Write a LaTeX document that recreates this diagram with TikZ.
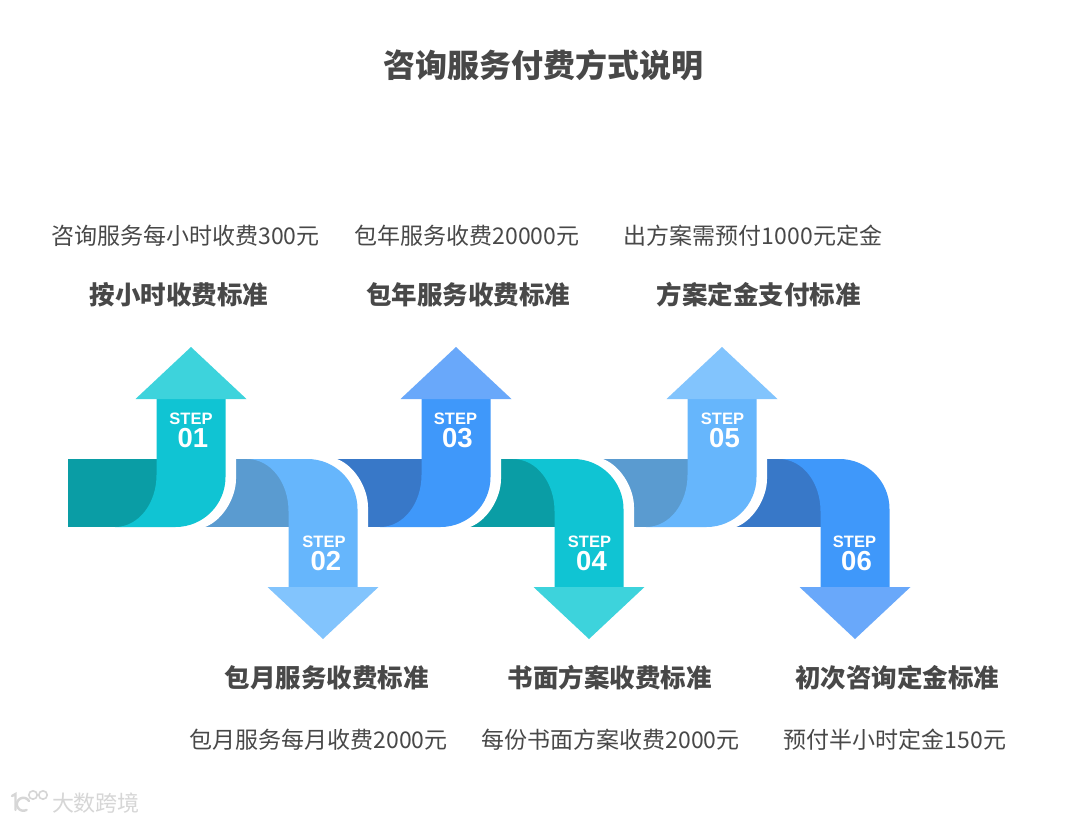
\documentclass[tikz,border=0pt]{standalone}
\usepackage{fontspec}
\setmainfont{Noto Sans CJK SC}
\newfontfamily\stepfont{Liberation Sans}
\definecolor{tealD}{HTML}{0A9DA5}
\definecolor{tealB}{HTML}{10C4D3}
\definecolor{tealH}{HTML}{3DD3DC}
\definecolor{skyD}{HTML}{5A9BD0}
\definecolor{skyB}{HTML}{66B6FC}
\definecolor{skyH}{HTML}{82C4FD}
\definecolor{blueD}{HTML}{3878C8}
\definecolor{blueB}{HTML}{3F98FA}
\definecolor{blueH}{HTML}{69A8FA}
\definecolor{ink}{HTML}{484848}
\definecolor{wmgray}{HTML}{D6D6D6}
\tikzset{
  titletext/.style={font=\fontsize{32}{36}\selectfont\bfseries,text=ink,inner sep=0pt},
  headtext/.style={font=\fontsize{25.5}{30}\selectfont\bfseries,text=ink,inner sep=0pt},
  desctext/.style={font=\fontsize{23}{28}\selectfont,text=ink,inner sep=0pt},
  steptext/.style={font=\stepfont\bfseries\fontsize{16.5}{18}\selectfont,text=white,inner sep=0pt},
  numtext/.style={font=\stepfont\bfseries\fontsize{27.5}{28}\selectfont,text=white,inner sep=0pt},
  marktext/.style={font=\fontsize{22}{24}\selectfont,text=wmgray,inner sep=0pt},
  markline/.style={draw=wmgray,line width=2.4pt,line cap=round}
}
% #1 centre x, #2 flip (1 up, -1 down), #3 dark, #4 bright, #5 head
\newcommand{\bendarrow}[5]{%
  \begin{scope}[shift={(#1,493)},yscale=#2]
    \fill[#3] (-123,-34) rectangle (-30,34);
    \fill[white] (-15.5,-60) -- (45,-60) -- (45,-14) .. controls (45,6) and (30,30) .. (11,35) -- (-15.5,35) -- cycle;
    \fill[#4] (-34.5,-95) -- (34.5,-95) -- (34.5,-16) arc[start angle=0,end angle=90,radius=50]
      -- (-76,34) .. controls (-52,34) and (-34.5,10) .. (-34.5,-18) -- cycle;
    \fill[#5] (0,-146) -- (55.5,-94) -- (-55.5,-94) -- cycle;
  \end{scope}}
\begin{document}
\begin{tikzpicture}[x=1pt,y=-1pt]
\useasboundingbox (0,0) rectangle (1080,823);
\fill[white] (0,0) rectangle (1080,823);
\bendarrow{855}{-1}{blueD}{blueB}{blueH}
\bendarrow{722}{1}{skyD}{skyB}{skyH}
\bendarrow{589}{-1}{tealD}{tealB}{tealH}
\bendarrow{456}{1}{blueD}{blueB}{blueH}
\bendarrow{323}{-1}{skyD}{skyB}{skyH}
\bendarrow{191}{1}{tealD}{tealB}{tealH}
\node[titletext] (title) at (543.5,65.5) {咨询服务付费方式说明};
\node[desctext] (d1) at (185.5,235.5) {咨询服务每小时收费300元};
\node[desctext] (d3) at (467,235.5) {包年服务收费20000元};
\node[desctext] (d5) at (753,235.5) {出方案需预付1000元定金};
\node[headtext] (h1) at (179,294.5) {按小时收费标准};
\node[headtext] (h3) at (468,294.5) {包年服务收费标准};
\node[headtext] (h5) at (758.5,294.5) {方案定金支付标准};
\node[headtext] (h2) at (326.5,677.5) {包月服务收费标准};
\node[headtext] (h4) at (609.5,677.5) {书面方案收费标准};
\node[headtext] (h6) at (897,677.5) {初次咨询定金标准};
\node[desctext] (d2) at (318.5,739.5) {包月服务每月收费2000元};
\node[desctext] (d4) at (610.5,739.5) {每份书面方案收费2000元};
\node[desctext] (d6) at (895,739.5) {预付半小时定金150元};
\foreach \n/\x/\y/\t in {1/191/418.5/01,2/324/541.5/02,3/455.5/418.5/03,4/589.5/541.5/04,5/722.5/418.5/05,6/854.5/541.5/06}{
  \node[steptext] (s\n) at (\x,\y) {STEP};
  \node[numtext] (n\n) at (\x+2,\y+20) {\t};
}
% watermark
\draw[markline] (12,796) -- (15.5,794) -- (15.5,810);
\draw[markline] (29,801) arc[start angle=-30,end angle=-300,radius=6.5];
\draw[wmgray,line width=1.6pt] (33,795) circle[radius=4.2];
\draw[wmgray,line width=1.6pt] (43,795) circle[radius=4.2];
\node[marktext] (logo) at (96,803) {大数跨境};
\end{tikzpicture}
\end{document}
